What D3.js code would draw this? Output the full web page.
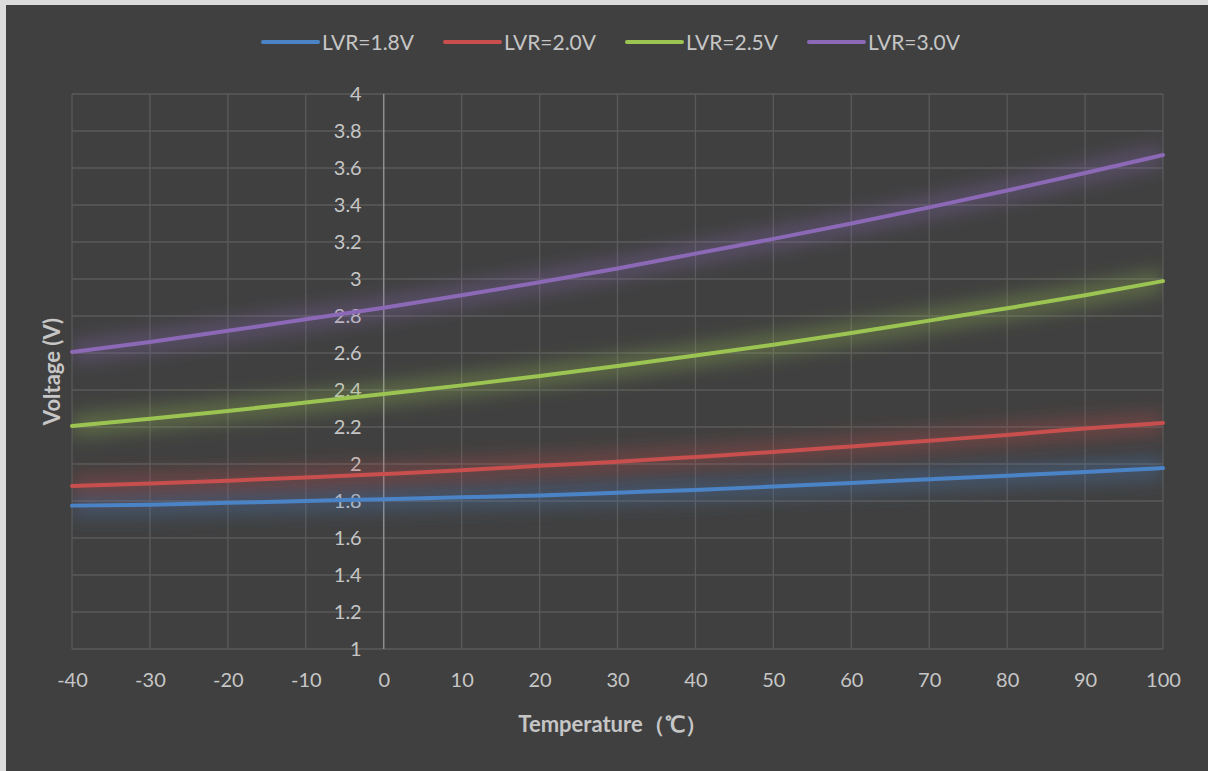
<!DOCTYPE html>
<html>
<head>
<meta charset="utf-8">
<script src="https://cdn.jsdelivr.net/npm/d3@7"></script>
<style>
  html, body { margin: 0; padding: 0; background: #dcdcdc; }
  svg { display: block; }
</style>
</head>
<body>
<script>
// chart data
var temps = [-40, -30, -20, -10, 0, 10, 20, 30, 40, 50, 60, 70, 80, 90, 100];
var seriesNames = ["LVR=1.8V", "LVR=2.0V", "LVR=2.5V", "LVR=3.0V"];
var lvr18 = [1.775, 1.78, 1.79, 1.80, 1.81, 1.82, 1.83, 1.845, 1.86, 1.878, 1.897, 1.918, 1.937, 1.957, 1.978];
var lvr20 = [1.881, 1.895, 1.91, 1.927, 1.946, 1.966, 1.99, 2.012, 2.038, 2.065, 2.095, 2.126, 2.157, 2.192, 2.222];
var lvr25 = [2.205, 2.245, 2.287, 2.332, 2.378, 2.425, 2.476, 2.53, 2.586, 2.645, 2.708, 2.775, 2.842, 2.912, 2.989];
var lvr30 = [2.605, 2.66, 2.72, 2.782, 2.845, 2.912, 2.982, 3.057, 3.137, 3.217, 3.3, 3.387, 3.478, 3.573, 3.67];
var yTicks = [1, 1.2, 1.4, 1.6, 1.8, 2, 2.2, 2.4, 2.6, 2.8, 3, 3.2, 3.4, 3.6, 3.8, 4];
var colors = ["#4a84c6", "#c84f4d", "#9cc452", "#8c69b6"];

var W = 1208, H = 771;
var margin = {top: 94, right: 45, bottom: 122, left: 72};

var svg = d3.select("body").append("svg")
    .attr("width", W)
    .attr("height", H);

var x = d3.scaleLinear().domain([-40, 100]).range([margin.left, W - margin.right]);
var y = d3.scaleLinear().domain([1, 4]).range([H - margin.bottom, margin.top]);

var defs = svg.append("defs");
var glow = defs.append("filter")
    .attr("id", "glow")
    .attr("x", "-10%").attr("y", "-300%")
    .attr("width", "120%").attr("height", "700%");
glow.append("feGaussianBlur").attr("stdDeviation", 9);
defs.append("clipPath").attr("id", "plotclip")
    .append("rect")
    .attr("x", x(-40)).attr("y", 0)
    .attr("width", x(100) - x(-40)).attr("height", H);

svg.append("rect")
    .attr("x", 6).attr("y", 5)
    .attr("width", W - 6).attr("height", H - 5)
    .attr("fill", "#404040");

var font = "Lato, 'Open Sans', sans-serif";
var textCol = "#c6c6c6";

// grid
var grid = svg.append("g");
grid.selectAll("line.h").data(yTicks).enter().append("line")
    .attr("x1", x(-40)).attr("x2", x(100))
    .attr("y1", function(d) { return y(d); })
    .attr("y2", function(d) { return y(d); })
    .attr("stroke", "#5a5a5a").attr("stroke-width", 1.3);
grid.selectAll("line.v").data(temps.filter(function(t) { return t !== 0; })).enter().append("line")
    .attr("x1", function(d) { return x(d); })
    .attr("x2", function(d) { return x(d); })
    .attr("y1", y(1)).attr("y2", y(4))
    .attr("stroke", "#5a5a5a").attr("stroke-width", 1.3);

// axis at zero
svg.append("line")
    .attr("x1", x(0)).attr("x2", x(0))
    .attr("y1", y(1)).attr("y2", y(4))
    .attr("stroke", "#8e8e8e").attr("stroke-width", 1.5);

// y tick labels sit left of the zero line
var yAxis = d3.axisLeft(y).tickValues(yTicks).tickSize(0).tickPadding(22)
    .tickFormat(function(d) { return String(+d.toFixed(1)); });
var gy = svg.append("g").attr("transform", "translate(" + x(0) + ",0)").call(yAxis);
gy.select(".domain").remove();
gy.selectAll("text").attr("fill", textCol).style("font-family", font).style("font-size", "20px");

var xAxis = d3.axisBottom(x).tickValues(temps).tickSize(0).tickPadding(24)
    .tickFormat(function(d) { return String(d); });
var gx = svg.append("g").attr("transform", "translate(0," + y(1) + ")").call(xAxis);
gx.select(".domain").remove();
gx.selectAll("text").attr("fill", textCol).style("font-family", font).style("font-size", "20px");

// axis titles
svg.append("text")
    .attr("x", (x(-40) + x(100)) / 2 - 5).attr("y", 732)
    .attr("text-anchor", "middle")
    .attr("fill", textCol)
    .style("font-family", font).style("font-size", "22px").style("font-weight", "bold")
    .text("Temperature（℃）");

svg.append("text")
    .attr("transform", "translate(60," + ((y(1) + y(4)) / 2) + ") rotate(-90)")
    .attr("text-anchor", "middle")
    .attr("fill", textCol)
    .style("font-family", font).style("font-size", "22px").style("font-weight", "bold")
    .text("Voltage (V)");

// lines
var allSeries = [lvr18, lvr20, lvr25, lvr30];
var line = d3.line()
    .x(function(d, i) { return x(temps[i]); })
    .y(function(d) { return y(d); })
    .curve(d3.curveMonotoneX);

var glows = svg.append("g").attr("clip-path", "url(#plotclip)");
allSeries.forEach(function(vals, k) {
    glows.append("path")
        .attr("d", line(vals))
        .attr("fill", "none")
        .attr("stroke", colors[k])
        .attr("stroke-width", 22)
        .attr("stroke-opacity", 0.32)
        .attr("filter", "url(#glow)");
});
var lines = svg.append("g");
allSeries.forEach(function(vals, k) {
    lines.append("path")
        .attr("d", line(vals))
        .attr("fill", "none")
        .attr("stroke", colors[k])
        .attr("stroke-width", 4)
        .attr("stroke-linecap", "round");
});

// legend
var legend = svg.append("g").attr("transform", "translate(263,42)");
seriesNames.forEach(function(name, k) {
    var g = legend.append("g").attr("transform", "translate(" + (k * 182) + ",0)");
    g.append("line")
        .attr("x1", 0).attr("x2", 55).attr("y1", 0).attr("y2", 0)
        .attr("stroke", colors[k]).attr("stroke-width", 4).attr("stroke-linecap", "round");
    g.append("text")
        .attr("x", 59).attr("y", 7.5)
        .attr("fill", textCol)
        .style("font-family", font).style("font-size", "21px")
        .text(name);
});
</script>
</body>
</html>
